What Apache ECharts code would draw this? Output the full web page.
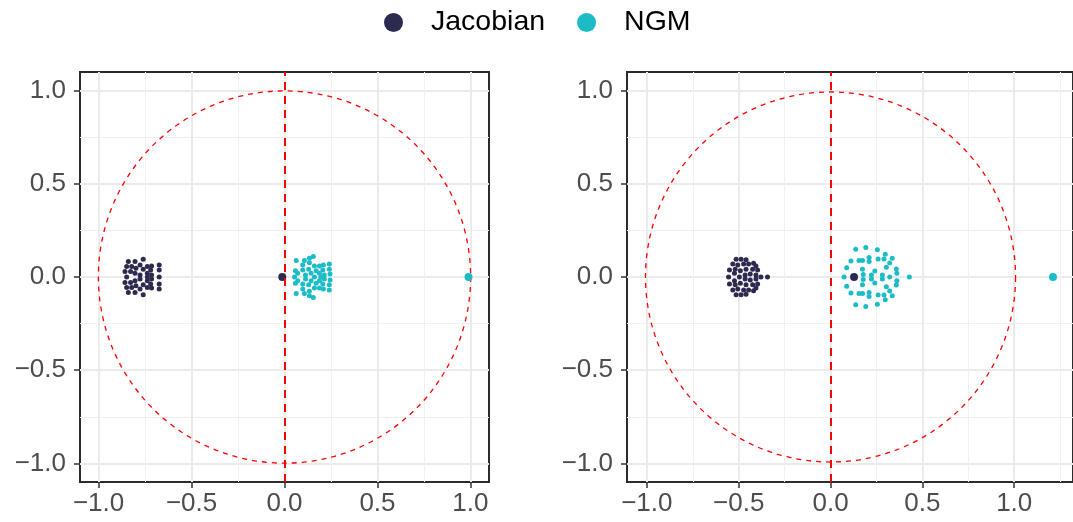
<!DOCTYPE html>
<html>
<head>
<meta charset="utf-8">
<script src="https://cdn.jsdelivr.net/npm/echarts@6/dist/echarts.min.js"></script>
<style>
  html, body { margin: 0; padding: 0; background: #fff; }
  #chart { width: 1073px; height: 522px; }
</style>
</head>
<body>
<div id="chart"></div>
<script>
// eigenvalues, [re, im]
const jacLeft = [
  [-0.840, 0.083], [-0.804, 0.083], [-0.760, 0.095], [-0.777, 0.065], [-0.738, 0.056],
  [-0.715, 0.059], [-0.674, 0.065], [-0.849, 0.056], [-0.822, 0.056], [-0.799, 0.047],
  [-0.760, 0.041], [-0.720, 0.038], [-0.674, 0.038], [-0.858, 0.029], [-0.828, 0.029],
  [-0.804, 0.020], [-0.777, 0.011], [-0.738, 0.020], [-0.715, 0.011],
  [-0.849, 0], [-0.738, 0], [-0.674, 0],
  [-0.840, -0.083], [-0.804, -0.083], [-0.760, -0.095], [-0.777, -0.065], [-0.738, -0.056],
  [-0.715, -0.059], [-0.674, -0.065], [-0.849, -0.056], [-0.822, -0.056], [-0.799, -0.047],
  [-0.760, -0.041], [-0.720, -0.038], [-0.674, -0.038], [-0.858, -0.029], [-0.828, -0.029],
  [-0.804, -0.020], [-0.777, -0.011], [-0.738, -0.020], [-0.715, -0.011]
];
const ngmLeft = [
  [0.063, 0.088], [0.107, 0.088], [0.134, 0.101], [0.155, 0.110], [0.098, 0.065],
  [0.134, 0.077], [0.161, 0.059], [0.188, 0.059], [0.209, 0.065], [0.241, 0.070],
  [0.059, 0.034], [0.098, 0.038], [0.130, 0.041], [0.170, 0.034], [0.206, 0.038],
  [0.241, 0.041], [0.071, 0.020], [0.113, 0.011], [0.143, 0.020], [0.188, 0.020],
  [0.214, 0.011], [0.245, 0.016],
  [0.054, 0], [0.161, 0], [0.195, 0],
  [0.063, -0.088], [0.107, -0.088], [0.134, -0.101], [0.155, -0.110], [0.098, -0.065],
  [0.134, -0.077], [0.161, -0.059], [0.188, -0.059], [0.209, -0.065], [0.241, -0.070],
  [0.059, -0.034], [0.098, -0.038], [0.130, -0.041], [0.170, -0.034], [0.206, -0.038],
  [0.241, -0.041], [0.071, -0.020], [0.113, -0.011], [0.143, -0.020], [0.188, -0.020],
  [0.214, -0.011], [0.245, -0.016]
];
const jacRight = [
  [-0.514, 0.095], [-0.487, 0.095], [-0.460, 0.092], [-0.532, 0.070], [-0.505, 0.065],
  [-0.473, 0.070], [-0.446, 0.070], [-0.419, 0.074], [-0.406, 0.059], [-0.550, 0.038],
  [-0.519, 0.041], [-0.491, 0.034], [-0.460, 0.041], [-0.424, 0.041], [-0.397, 0.038],
  [-0.523, 0.020], [-0.465, 0.011], [-0.437, 0.016], [-0.406, 0.011],
  [-0.555, 0], [-0.496, 0], [-0.379, 0], [-0.343, 0],
  [-0.514, -0.095], [-0.487, -0.095], [-0.460, -0.092], [-0.532, -0.070], [-0.505, -0.065],
  [-0.473, -0.070], [-0.446, -0.070], [-0.419, -0.074], [-0.406, -0.059], [-0.550, -0.038],
  [-0.519, -0.041], [-0.491, -0.034], [-0.460, -0.041], [-0.424, -0.041], [-0.397, -0.038],
  [-0.523, -0.020], [-0.465, -0.011], [-0.437, -0.016], [-0.406, -0.011]
];
const ngmRight = [
  [0.137, 0.149], [0.192, 0.158], [0.255, 0.146], [0.298, 0.122], [0.336, 0.101],
  [0.358, 0.043], [0.361, 0.020], [0.111, 0.086], [0.088, 0.050], [0.155, 0.088],
  [0.174, 0.088], [0.210, 0.104], [0.210, 0.083], [0.259, 0.097], [0.291, 0.097],
  [0.174, 0.041], [0.241, 0.032], [0.304, 0.052], [0.178, 0.014], [0.223, 0.011],
  [0.282, 0.011], [0.322, 0.075],
  [0.074, 0], [0.322, 0], [0.429, 0],
  [0.137, -0.149], [0.192, -0.158], [0.255, -0.146], [0.298, -0.122], [0.336, -0.101],
  [0.358, -0.043], [0.361, -0.020], [0.111, -0.086], [0.088, -0.050], [0.155, -0.088],
  [0.174, -0.088], [0.210, -0.104], [0.210, -0.083], [0.259, -0.097], [0.291, -0.097],
  [0.174, -0.041], [0.241, -0.032], [0.304, -0.052], [0.178, -0.014], [0.223, -0.011],
  [0.282, -0.011], [0.322, -0.075]
];
// dominant eigenvalues (drawn larger)
const jacLeftTop = [[-0.012, 0]];
const ngmLeftTop = [[0.99, 0]];
const jacRightTop = [[0.128, 0]];
const ngmRightTop = [[1.211, 0]];

const unitCircle = [[0, 0, 1]];
const majorTicks = [-1, -0.5, 0, 0.5, 1];
const minorLeft = [-0.75, -0.25, 0.25, 0.75];
const minorRight = [-0.75, -0.25, 0.25, 0.75, 1.25];
const xRangeLeft = [-1.1, 1.1];
const xRangeRight = [-1.108, 1.32];
const yRange = [-1.1, 1.1];

const jacColor = '#2d2a4f';
const ngmColor = '#1bbcc6';
const font = 'Liberation Sans, Arial, sans-serif';

const fmt = v => v.toFixed(1).replace('-', '\u2212');

function majorAxis(gridIndex, range, isX) {
  return {
    type: 'value', gridIndex, min: range[0], max: range[1],
    position: isX ? 'bottom' : 'left',
    axisLine: { show: false, onZero: false },
    axisTick: { show: true, customValues: majorTicks, length: 6, lineStyle: { color: '#333', width: 1.5 } },
    axisLabel: {
      customValues: majorTicks, formatter: fmt,
      color: '#4d4d4d', fontSize: 26, fontFamily: font, margin: isX ? 9 : 14
    },
    splitLine: { show: true, lineStyle: { color: '#ebebeb', width: 2 } }
  };
}
function minorAxis(gridIndex, range, isX, ticks) {
  return {
    type: 'value', gridIndex, min: range[0], max: range[1],
    position: isX ? 'top' : 'right',
    axisLine: { show: false, onZero: false },
    axisTick: { show: false, customValues: ticks },
    axisLabel: { show: false },
    splitLine: { show: true, lineStyle: { color: '#f0f0f0', width: 1 } }
  };
}

function circleSeries(xi, yi) {
  return {
    type: 'custom', xAxisIndex: xi, yAxisIndex: yi, data: unitCircle, silent: true, z: 1,
    renderItem: (params, api) => {
      const c = api.coord([api.value(0), api.value(1)]);
      const s = api.size([api.value(2), api.value(2)]);
      return {
        type: 'circle',
        shape: { cx: c[0], cy: c[1], r: (s[0] + s[1]) / 2 },
        style: { fill: 'none', stroke: '#ff0000', lineWidth: 1.3, lineDash: [5, 5] }
      };
    },
    markLine: {
      silent: true, symbol: 'none', label: { show: false },
      lineStyle: { color: '#ff0000', width: 2, type: [8, 6] },
      data: [{ xAxis: 0 }]
    }
  };
}
function pts(name, data, color, size, xi, yi, z) {
  return {
    name, type: 'scatter', data, xAxisIndex: xi, yAxisIndex: yi, z,
    symbolSize: size, itemStyle: { color, opacity: 1 }
  };
}

const chart = echarts.init(document.getElementById('chart'));
chart.setOption({
  animation: false,
  legend: {
    data: ['Jacobian', 'NGM'], top: 3, left: 379,
    icon: 'circle', itemWidth: 19, itemHeight: 19, itemGap: 32,
    textStyle: { fontSize: 28.5, color: '#000', fontFamily: font, padding: [0, 0, 0, 23] }
  },
  grid: [
    { left: 80, top: 72, width: 409, height: 410, show: true, borderColor: '#2b2b2b', borderWidth: 2, backgroundColor: 'transparent' },
    { left: 627, top: 72, width: 450, height: 410, show: true, borderColor: '#2b2b2b', borderWidth: 2, backgroundColor: 'transparent' }
  ],
  xAxis: [
    majorAxis(0, xRangeLeft, true), majorAxis(1, xRangeRight, true),
    minorAxis(0, xRangeLeft, true, minorLeft), minorAxis(1, xRangeRight, true, minorRight)
  ],
  yAxis: [
    majorAxis(0, yRange, false), majorAxis(1, yRange, false),
    minorAxis(0, yRange, false, minorLeft), minorAxis(1, yRange, false, minorLeft)
  ],
  series: [
    circleSeries(0, 0),
    circleSeries(1, 1),
    pts('NGM', ngmLeft, ngmColor, 5, 0, 0, 3),
    pts('NGM', ngmLeftTop, ngmColor, 8, 0, 0, 3),
    pts('Jacobian', jacLeft, jacColor, 5, 0, 0, 4),
    pts('Jacobian', jacLeftTop, jacColor, 8, 0, 0, 4),
    pts('NGM', ngmRight, ngmColor, 5, 1, 1, 3),
    pts('NGM', ngmRightTop, ngmColor, 8, 1, 1, 3),
    pts('Jacobian', jacRight, jacColor, 5, 1, 1, 4),
    pts('Jacobian', jacRightTop, jacColor, 8, 1, 1, 4)
  ]
});
</script>
</body>
</html>
